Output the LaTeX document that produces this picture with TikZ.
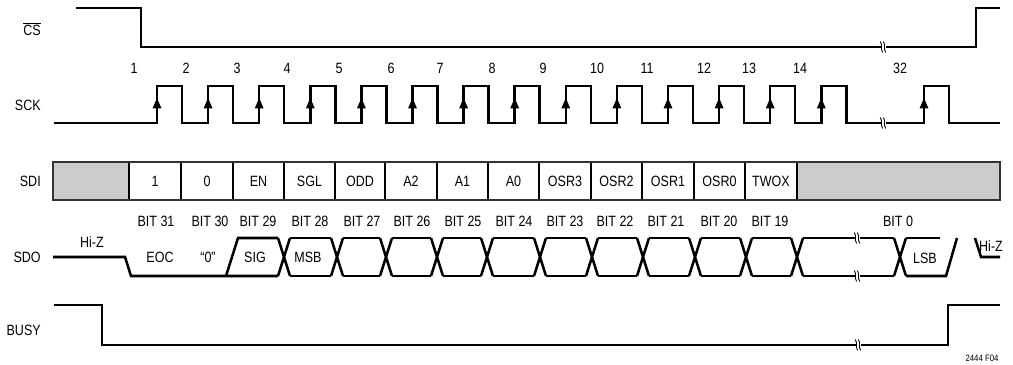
\documentclass[tikz,border=0pt]{standalone}
\usepackage{fontspec}
\setmainfont{Liberation Sans}[FakeStretch=0.84]
\begin{document}
\begin{tikzpicture}[x=0.025cm,y=-0.025cm,line width=1.8pt,line join=miter,
  lbl/.style={font=\fontsize{10.6}{12}\selectfont,inner sep=0pt},
  sname/.style={lbl,anchor=east},
  brk/.pic={
    \fill[white] (-2.5,-4) rectangle (2.5,4);
    \draw[line width=0.6pt] (-2.8,-5.5) .. controls (0,-2) and (-3,2) .. (-0.3,5.5);
    \draw[line width=0.6pt] (0.3,-5.5) .. controls (3,-2) and (0,2) .. (2.8,5.5);
  }]
\useasboundingbox (0,0) rectangle (1013,365);

% signal names
\node[sname] (ncs) at (42,29) {$\overline{\mbox{CS}}$};
\node[sname] (nsck) at (42,105) {SCK};
\node[sname] (nsdi) at (42,181) {SDI};
\node[sname] (nsdo) at (42,257) {SDO};
\node[sname] (nbusy) at (42,330) {BUSY};

% CS
\draw (76,8) -- (141,8) -- (141,47) -- (976,47) -- (976,8) -- (1000,8);
\pic at (883,47) {brk};

% clock numbers
\foreach \x/\t [count=\i] in {134/1,186/2,237/3,287/4,339/5,391/6,440/7,492/8,543/9,597/10,647/11,704/12,749/13,800/14,900/32}
  \node[lbl] (num\i) at (\x,68) {\t};

% SCK
\draw (54,123)
  foreach \r in {157,208.1,259.2,310.3,361.4,412.5,463.6,514.7,565.8,616.9,668,719.1,770.2,821.3,924}
  { -- (\r,123) -- (\r,86) -- (\r+25,86) -- (\r+25,123) } -- (1000,123);
\foreach \r in {157,208.1,259.2,310.3,361.4,412.5,463.6,514.7,565.8,616.9,668,719.1,770.2,821.3,924}
  \fill (\r,98) -- (\r+4.5,108.5) -- (\r-4.5,108.5) -- cycle;
\pic at (883,123) {brk};

% SDI
\fill[gray!40] (53,162) rectangle (129,200);
\fill[gray!40] (797,162) rectangle (1000,200);
\foreach \x in {129,181,233,284,335,385,437,488,539,591,642,694,745,797}
  \draw (\x,162) -- (\x,200);
\draw[black!80] (53,162) rectangle (1000,200);
\foreach \x/\t [count=\i] in {155/1,207/0,258.5/EN,309.5/SGL,360/ODD,411/A2,462.5/A1,513.5/A0,565/OSR3,616.5/OSR2,668/OSR1,719.5/OSR0,771/TWOX}
  \node[lbl] (sdi\i) at (\x,181) {\t};

% SDO bit labels
\foreach \x/\t [count=\i] in {156/31,210/30,258/29,310/28,362/27,412/26,463/25,514/24,565/23,615/22,666/21,719/20,770/19,898/0}
  \node[lbl] (bit\i) at (\x,221) {BIT \t};

% SDO waveform
\draw (53,257) -- (125,257) -- (131,276) -- (278,276);
\draw (226,276) -- (238,238) -- (278,238);
\foreach \c in {284,337,386,437,487,540,592,643,695,746,797,900} {
  \draw (\c-6,238) -- (\c+6,276);
  \draw (\c-6,276) -- (\c+6,238);
}
\foreach \a/\b in {284/337,337/386,386/437,437/487,487/540,540/592,592/643,643/695,695/746,746/797,797/900} {
  \draw (\a+6,238) -- (\b-6,238);
  \draw (\a+6,276) -- (\b-6,276);
}
\draw (906,238) -- (940,238);
\draw (906,276) -- (946,276) -- (957,238);
\draw (975,238) -- (981,257) -- (1000,257);
\pic at (857,238) {brk};
\pic at (857,276) {brk};

\node[lbl] (hiz1) at (92,242) {Hi-Z};
\node[lbl] (hiz2) at (991,246) {Hi-Z};
\node[lbl] (eoc) at (160,257) {EOC};
\node[lbl] (zero) at (208,257) {“0”};
\node[lbl] (sig) at (255,257) {SIG};
\node[lbl] (msb) at (308,257) {MSB};
\node[lbl] (lsb) at (925,258) {LSB};

% BUSY
\draw (54,305) -- (102,305) -- (102,345) -- (948,345) -- (948,305) -- (1000,305);
\pic at (858,345) {brk};

\node[font=\fontsize{6.6}{8}\selectfont,inner sep=0pt] (fig) at (982,358) {2444 F04};
\end{tikzpicture}
\end{document}
